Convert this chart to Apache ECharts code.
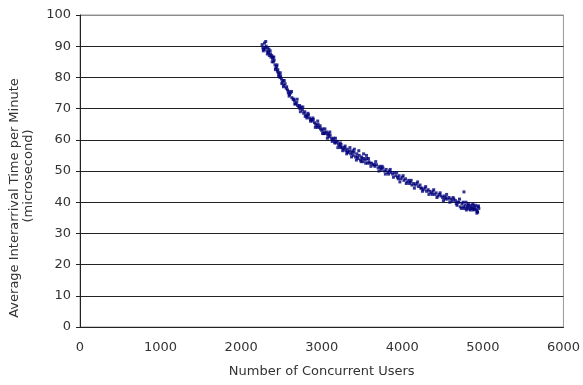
<!DOCTYPE html>
<html>
<head>
<meta charset="utf-8">
<script src="https://cdn.jsdelivr.net/npm/echarts@6/dist/echarts.min.js"></script>
<style>
  html, body { margin: 0; padding: 0; background: #fff; }
  #chart { width: 583px; height: 385px; }
</style>
</head>
<body>
<div id="chart"></div>
<script>
// values
var xTicks = [0, 1000, 2000, 3000, 4000, 5000, 6000];
var yTicks = [0, 10, 20, 30, 40, 50, 60, 70, 80, 90, 100];
var yTitle = ['Average Interarrival Time per Minute', '(microsecond)'];

var users = [
  2260, 2270, 2280, 2290, 2300, 2310, 2320, 2330, 2340, 2350, 2360, 2370, 2380, 2390, 2400,
  2410, 2420, 2430, 2440, 2450, 2460, 2470, 2480, 2490, 2500,
  2510, 2520, 2530, 2545, 2560, 2575, 2590, 2600, 2615, 2630, 2645, 2660, 2675, 2690, 2700,
  2715, 2730, 2745, 2760, 2775, 2790,
  2805, 2820, 2835, 2850, 2865, 2880, 2895, 2910, 2925, 2940, 2955, 2970, 2985, 3000, 3015,
  3030, 3045, 3060, 3075, 3090, 3105, 3120, 3135, 3150, 3165, 3180, 3195,
  3210, 3225, 3240, 3255, 3270, 3285, 3300, 3315, 3330, 3345, 3360, 3375, 3390, 3405, 3420,
  3435, 3450, 3465, 3480, 3495, 3510, 3525, 3540, 3555, 3570, 3585, 3600,
  3620, 3640, 3660, 3680, 3700, 3720, 3740, 3760, 3780, 3800, 3820, 3840, 3860, 3880, 3900,
  3920, 3940, 3960, 3980, 4000, 4020, 4040, 4060, 4080, 4100, 4120,
  4140, 4160, 4180, 4200, 4220, 4240, 4260, 4280, 4300, 4320, 4340, 4360, 4380, 4400, 4420,
  4440, 4460, 4480, 4500, 4520, 4540, 4560, 4580, 4600, 4620, 4640, 4660, 4680, 4700, 4720,
  4740, 4760, 4765, 4780, 4800, 4820, 4840, 4860, 4880, 4900, 4920, 4940, 4950, 4930,
  4770, 4790, 4810, 4830, 4850, 4870, 4890, 4910, 4935,
  2285, 2335, 2395, 2455, 2525, 2585, 2655, 2725, 2815, 2875, 2945, 3025, 3085, 3160, 3235,
  3320, 3385, 3440, 3500, 3560, 3650, 3730, 3830, 3950, 4090, 4230, 4370, 4530, 4690, 4880,
  2275, 2305, 2325, 2345, 2365, 2385, 2405, 2425, 2445, 2465, 2485, 2505, 2535, 2565, 2595,
  2625, 2665, 2695, 2735, 2765, 2795, 2830, 2860, 2890, 2920, 2950, 2980, 3010, 3040, 3070,
  3100, 3130, 3170, 3200, 3230, 3260, 3290, 3310, 3350, 3370, 3400, 3430, 3460, 3490, 3520,
  3545, 3580, 3610, 3670, 3710, 3750, 3790, 3850, 3890, 3930, 3970, 4010, 4050, 4110, 4150,
  4190, 4250, 4290, 4330, 4390, 4430, 4470, 4510, 4550, 4590, 4630, 4670, 4710, 4735, 4755,
  4795, 4815, 4845, 4875, 4905, 4945, 4925
];
var interarrival = [
  90.5, 89.5, 89, 91, 89.5, 90, 88.5, 89.5, 88, 87, 88.5, 86.5, 87, 86, 85,
  85.5, 84, 83, 83.5, 82, 81.5, 81, 80, 80.5, 79.5,
  78.5, 79, 77.5, 78, 76.5, 76, 75.5, 74.5, 75, 73.5, 73, 72.5, 71.5, 72, 71,
  70.5, 70, 70.5, 69.5, 68.5, 69,
  68, 67.5, 68, 67, 66.5, 66, 66.5, 65.5, 65, 64.5, 65, 64, 63.5, 63, 63.5,
  62.5, 62, 62.5, 61.5, 61, 61.5, 60.5, 60, 60.5, 59.5, 59, 59.5,
  58.5, 58, 58.5, 57.5, 57, 57.5, 56.5, 57, 56, 56.5, 55.5, 56, 55, 57, 54.5,
  55.5, 54, 55, 53.5, 54.5, 53, 54, 53.5, 55, 52.5, 53, 52.5,
  52.5, 52, 51.5, 52, 51, 51.5, 50.5, 51, 50, 50.5, 49.5, 50, 49.5, 49, 49.5,
  48.5, 48, 48.5, 47.5, 48, 47, 47.5, 46.5, 47, 46.5, 45.5,
  46, 45.5, 46, 45, 45.5, 44.5, 44, 44.5, 43.5, 44, 43.5, 43, 43.5, 42.5, 43,
  42, 42.5, 42, 41.5, 42, 41.5, 41, 41.5, 41, 40.5, 41, 40.5, 39, 40, 38.5,
  39.5, 38.5, 43.3, 39, 38, 39.5, 38.5, 38, 39, 38.5, 37.5, 38.5, 38, 37,
  38, 40, 38.5, 37.8, 39, 38.2, 37.8, 39, 36.8,
  89, 88, 86.5, 82.5, 77, 75, 73, 71, 67, 66.5, 64, 62, 62, 59, 57.5,
  56, 56.5, 54.5, 54, 54, 52, 51, 49, 47.5, 46, 44.5, 42.5, 41, 40, 37.5,
  88.5, 91.5, 87.5, 89, 87.5, 85, 86.5, 82.5, 84, 80.5, 81.5, 78, 79, 77, 74,
  75.5, 71.5, 73, 69, 70.5, 67.5, 68.5, 66, 67, 64, 66, 64.5, 62, 63.5, 60.5,
  62.5, 59.5, 60.5, 57.5, 59, 56.5, 58, 55.5, 57.5, 54.5, 56, 53.5, 56.5, 53, 55.5,
  52.5, 54, 51.5, 53, 50, 51.5, 49, 50.5, 48, 49.5, 46.5, 48.5, 46, 47, 44.5,
  46.5, 43.5, 45, 42.5, 44, 41.5, 43, 40.5, 42.5, 40, 41.5, 39.5, 41, 38, 40,
  37.5, 39, 37.5, 39.5, 37.8, 38.8, 36.5
];

var points = users.map(function (u, i) { return [u, interarrival[i]]; });

var chart = echarts.init(document.getElementById('chart'));
var font = 'DejaVu Sans';
var ink = '#333';
var splitColors = yTicks.map(function (t) { return t === 100 ? '#8c8c8c' : '#222'; });

chart.setOption({
  animation: false,
  grid: {
    left: 80, right: 17, top: 15, bottom: 58,
    show: true, borderColor: '#999', borderWidth: 1
  },
  xAxis: {
    type: 'value', min: xTicks[0], max: xTicks[xTicks.length - 1], interval: 1000,
    name: 'Number of Concurrent Users',
    nameLocation: 'middle', nameGap: 38,
    nameTextStyle: { fontFamily: font, fontSize: 13, color: ink },
    axisLine: { show: true, lineStyle: { color: '#222', width: 1 } },
    axisTick: { show: false },
    axisLabel: { fontFamily: font, fontSize: 13, color: ink, margin: 14,
      formatter: function (v) { return String(v); } },
    splitLine: { show: false }
  },
  yAxis: {
    type: 'value', min: yTicks[0], max: yTicks[yTicks.length - 1], interval: 10,
    axisLine: { show: true, lineStyle: { color: '#222', width: 1 } },
    axisTick: { show: true, length: 4, lineStyle: { color: '#222' } },
    axisLabel: { fontFamily: font, fontSize: 13, color: ink, margin: 9 },
    splitLine: { show: true, lineStyle: { color: splitColors, width: 1 } }
  },
  graphic: [
    { type: 'text', x: 15, y: 198, rotation: Math.PI / 2,
      style: { text: yTitle[0], font: '13px "DejaVu Sans"', fill: ink,
        align: 'center', verticalAlign: 'middle' } },
    { type: 'text', x: 29, y: 176, rotation: Math.PI / 2,
      style: { text: yTitle[1], font: '13px "DejaVu Sans"', fill: ink,
        align: 'center', verticalAlign: 'middle' } }
  ],
  series: [{
    type: 'scatter',
    data: points,
    symbol: 'rect',
    symbolSize: 3,
    itemStyle: { color: '#00007a' }
  }]
});
</script>
</body>
</html>
